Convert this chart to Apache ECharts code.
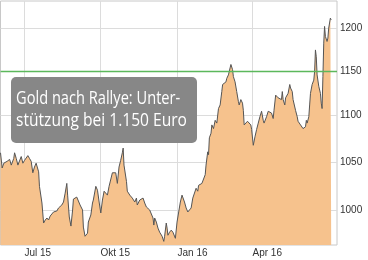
<!DOCTYPE html>
<html>
<head>
<meta charset="utf-8">
<script src="https://cdn.jsdelivr.net/npm/echarts@6/dist/echarts.min.js"></script>
<style>
html,body{margin:0;padding:0;background:#fff;}
#c{width:368px;height:260px;}
</style>
</head>
<body>
<div id="c"></div>
<script>
// ---- data (gold price in EUR) ----
const dates = [
'2015-06-02','2015-06-04','2015-06-06','2015-06-10','2015-06-13','2015-06-15','2015-06-18','2015-06-19','2015-06-21','2015-06-23','2015-06-25','2015-06-27','2015-06-29',
'2015-07-01','2015-07-03','2015-07-05','2015-07-07','2015-07-09','2015-07-11','2015-07-13','2015-07-15','2015-07-16','2015-07-18','2015-07-19','2015-07-22','2015-07-24','2015-07-26','2015-07-28','2015-07-30',
'2015-08-01','2015-08-03','2015-08-05','2015-08-07','2015-08-09','2015-08-11','2015-08-13','2015-08-15','2015-08-17','2015-08-19','2015-08-21','2015-08-22','2015-08-24','2015-08-26','2015-08-28','2015-08-29',
'2015-09-02','2015-09-04','2015-09-06','2015-09-09','2015-09-10','2015-09-12','2015-09-15','2015-09-16','2015-09-19','2015-09-21','2015-09-22','2015-09-25','2015-09-27','2015-09-29',
'2015-10-01','2015-10-03','2015-10-05','2015-10-07','2015-10-09','2015-10-11','2015-10-13','2015-10-15','2015-10-17','2015-10-19','2015-10-21','2015-10-23','2015-10-25','2015-10-27','2015-10-28','2015-10-29',
'2015-11-01','2015-11-02','2015-11-05','2015-11-08','2015-11-11','2015-11-13','2015-11-14','2015-11-17','2015-11-19','2015-11-21','2015-11-23','2015-11-25','2015-11-27','2015-11-29',
'2015-12-01','2015-12-03','2015-12-04','2015-12-05','2015-12-07','2015-12-09','2015-12-11','2015-12-14','2015-12-16','2015-12-17','2015-12-19','2015-12-20','2015-12-21','2015-12-23','2015-12-25','2015-12-27','2015-12-29','2015-12-30',
'2016-01-01','2016-01-03','2016-01-05','2016-01-07','2016-01-09','2016-01-10','2016-01-12','2016-01-14','2016-01-16','2016-01-18','2016-01-20','2016-01-22','2016-01-24','2016-01-26','2016-01-27','2016-01-29','2016-01-31',
'2016-02-02','2016-02-04','2016-02-05','2016-02-07','2016-02-08','2016-02-09','2016-02-11','2016-02-12','2016-02-14','2016-02-16','2016-02-18','2016-02-20','2016-02-22','2016-02-24','2016-02-25','2016-02-27','2016-02-29',
'2016-03-01','2016-03-03','2016-03-05','2016-03-06','2016-03-08','2016-03-09','2016-03-11','2016-03-13','2016-03-15','2016-03-16','2016-03-18','2016-03-20','2016-03-21','2016-03-22','2016-03-24','2016-03-26','2016-03-28','2016-03-30','2016-03-31',
'2016-04-02','2016-04-04','2016-04-06','2016-04-07','2016-04-08','2016-04-10','2016-04-12','2016-04-14','2016-04-15','2016-04-17','2016-04-18','2016-04-20','2016-04-22','2016-04-24','2016-04-26','2016-04-27','2016-04-29','2016-04-30',
'2016-05-02','2016-05-04','2016-05-06','2016-05-07','2016-05-08','2016-05-10','2016-05-11','2016-05-13','2016-05-14','2016-05-16','2016-05-17','2016-05-19','2016-05-20','2016-05-21','2016-05-23','2016-05-25','2016-05-26','2016-05-29','2016-05-31',
'2016-06-01','2016-06-04','2016-06-05','2016-06-06','2016-06-08','2016-06-09','2016-06-10','2016-06-12','2016-06-14','2016-06-15','2016-06-16','2016-06-17','2016-06-18','2016-06-20','2016-06-22','2016-06-23','2016-06-24','2016-06-25','2016-06-26','2016-06-27','2016-06-28','2016-06-30',
'2016-07-01','2016-07-02','2016-07-04','2016-07-05'
];
const prices = [
1060,1044,1049,1051,1053,1047,1054,1060,1054,1047,1049,1056,1049,
1052,1054,1057,1054,1051,1039,1045,1049,1048,1040,1025,1008,988,991,993,991,
995,994,999,1001,1000,1003,1003,1006,1009,1018,1028,1016,994,985,1001,1012,
1014,1013,1006,1001,984,975,978,989,996,1008,1011,1025,1021,1009,
998,1011,1020,1021,1016,1025,1026,1039,1040,1039,1028,1045,1052,1060,1065,1047,
1030,1020,1016,1013,1009,1013,1006,1011,1009,1013,1008,1004,1003,1001,
999,993,986,993,989,983,979,975,970,975,988,983,976,979,981,979,979,973,
989,999,1009,1016,1018,1009,1003,999,998,1003,1013,1014,1023,1020,1026,1025,1028,
1028,1037,1047,1061,1058,1076,1081,1090,1086,1095,1092,1108,1112,1127,1135,1136,1138,
1142,1146,1154,1158,1152,1144,1138,1127,1116,1112,1118,1114,1106,1090,1092,1094,1092,1090,1085,
1068,1077,1085,1083,1092,1099,1105,1095,1092,1094,1099,1105,1106,1103,1097,1106,1123,1121,
1120,1121,1118,1127,1118,1112,1120,1121,1125,1135,1131,1127,1118,1116,1106,1099,1094,1090,1088,
1086,1088,1095,1092,1099,1112,1125,1135,1140,1150,1175,1167,1146,1133,1125,1114,1108,1144,1183,1203,1191,1185,
1189,1201,1213,1211
];
const xTickDates = ['2015-07-01','2015-10-01','2016-01-01','2016-04-01'];
const xTickLabels = ['Jul 15','Okt 15','Jan 16','Apr 16'];
const yTicks = [1000,1050,1100,1150,1200];
const supportLevel = 1150;
const xRange = ['2015-06-02','2016-07-12'];
const yRange = [966.5,1234];
const noteLines = ['Gold nach Rallye: Unter-','stützung bei 1.150 Euro'];

// ---- chart ----
const ts = s => { const p = s.split('-').map(Number); return Date.UTC(p[0], p[1]-1, p[2]); };
const xTickTs = xTickDates.map(ts);
const xMin = ts(xRange[0]), xMax = ts(xRange[1]);
const yMin = Math.log(yRange[0]), yMax = Math.log(yRange[1]);
const seriesData = dates.map((d,i)=>[ts(d), Math.log(prices[i])]);
const crisp = v => Math.round(v - 0.5) + 0.5;
const LABEL_FONT = '10px "Liberation Sans", Arial, sans-serif';

// horizontal grid lines + right-hand labels (log scale)
const yGridSeries = {
  type:'custom', silent:true, clip:false, z:2,
  data: yTicks.map(v => [xMax, Math.log(v)]),
  renderItem: (params, api) => {
    const a = api.coord([xMin, api.value(1)]);
    const b = api.coord([xMax, api.value(1)]);
    const y = crisp(a[1]);
    return {type:'group', children:[
      {type:'line', shape:{x1:a[0], y1:y, x2:b[0], y2:y}, style:{stroke:'#dcdcdc', lineWidth:1}},
      {type:'text', x:b[0] + 3, y:y, style:{text:String(yTicks[params.dataIndex]), fill:'#333', font:LABEL_FONT,
        align:'left', verticalAlign:'middle', textAlign:'left', textVerticalAlign:'middle'}}
    ]};
  }
};
// vertical grid lines + bottom labels
const xGridSeries = {
  type:'custom', silent:true, clip:false, z:2,
  data: xTickTs.map(t => [t, yMin]),
  renderItem: (params, api) => {
    const a = api.coord([api.value(0), yMin]);
    const b = api.coord([api.value(0), yMax]);
    const x = crisp(a[0]);
    return {type:'group', children:[
      {type:'line', shape:{x1:x, y1:a[1], x2:x, y2:b[1]}, style:{stroke:'#dcdcdc', lineWidth:1}},
      {type:'text', x:x, y:a[1] + 3, style:{text:xTickLabels[params.dataIndex], fill:'#333', font:LABEL_FONT,
        align:'left', verticalAlign:'top', textAlign:'left', textVerticalAlign:'top'}}
    ]};
  }
};
// support line at 1150
const supportSeries = {
  type:'custom', silent:true, clip:false, z:4,
  data: [[xMax, Math.log(supportLevel)]],
  renderItem: (params, api) => {
    const a = api.coord([xMin, api.value(1)]);
    const b = api.coord([xMax, api.value(1)]);
    const y = crisp(a[1]);
    return {type:'line', shape:{x1:a[0], y1:y, x2:b[0], y2:y}, style:{stroke:'#5cb85c', lineWidth:1.5}};
  }
};

const chart = echarts.init(document.getElementById('c'), null, {renderer:'canvas'});
chart.setOption({
  animation:false,
  grid:{left:0.5,right:31,top:1,bottom:15,show:true,borderColor:'#c8c8c8',borderWidth:1},
  xAxis:{type:'value', min:xMin, max:xMax, scale:true,
    axisLine:{show:false}, axisTick:{show:false}, axisLabel:{show:false}, splitLine:{show:false}},
  yAxis:{type:'value', position:'right', min:yMin, max:yMax, scale:true,
    axisLine:{show:false}, axisTick:{show:false}, axisLabel:{show:false}, splitLine:{show:false}},
  series:[
    yGridSeries,
    xGridSeries,
    {
      type:'line', data:seriesData, symbol:'none', showSymbol:false, z:3,
      lineStyle:{color:'#555', width:1},
      areaStyle:{color:'#F6C28D', opacity:1, origin:'start'}
    },
    supportSeries
  ],
  graphic:[
    {type:'rect', shape:{x:11,y:77,width:186,height:66,r:5}, style:{fill:'#878787'}, z:100},
    {type:'text', x:16, y:99, scaleX:0.77, z:101, style:{text:noteLines[0], fill:'#fff', fontSize:19, fontFamily:'Open Sans', verticalAlign:'middle'}},
    {type:'text', x:16, y:121, scaleX:0.82, z:101, style:{text:noteLines[1], fill:'#fff', fontSize:19, fontFamily:'Open Sans', verticalAlign:'middle'}}
  ]
});
</script>
</body>
</html>
